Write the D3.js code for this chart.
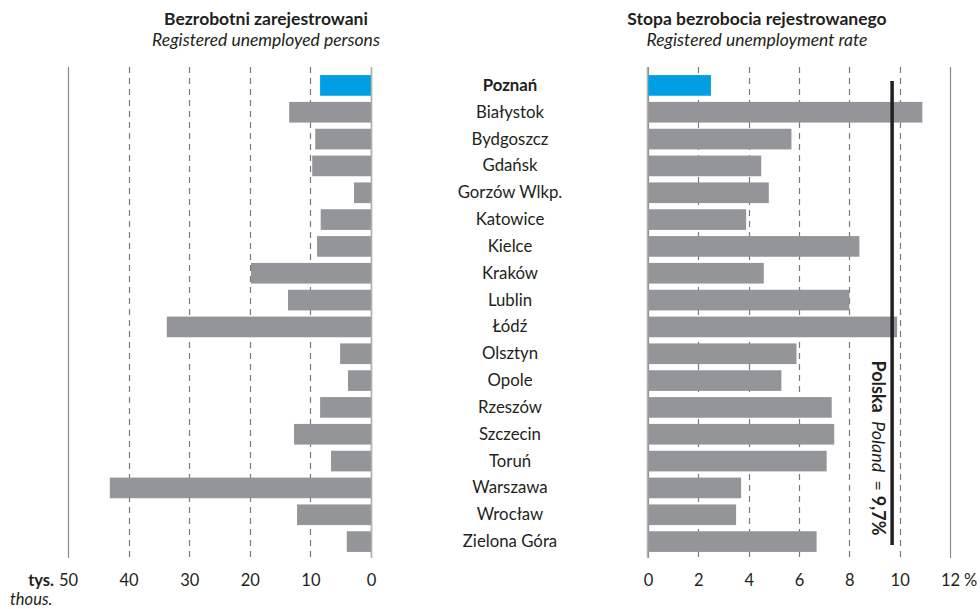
<!DOCTYPE html>
<html>
<head>
<meta charset="utf-8">
<script src="https://cdn.jsdelivr.net/npm/d3@7"></script>
<style>
  body { margin: 0; background: #fff; }
  svg { font-family: Lato, "Open Sans", sans-serif; fill: #231f20; }
</style>
</head>
<body>
<div id="chart"></div>
<script>
// data
const cities = ['Poznań', 'Białystok', 'Bydgoszcz', 'Gdańsk', 'Gorzów Wlkp.', 'Katowice', 'Kielce', 'Kraków',
  'Lublin', 'Łódź', 'Olsztyn', 'Opole', 'Rzeszów', 'Szczecin', 'Toruń', 'Warszawa', 'Wrocław', 'Zielona Góra'];
const unemployed = [8.4, 13.5, 9.2, 9.7, 2.8, 8.3, 8.9, 19.8, 13.7, 33.7, 5.1, 3.8, 8.4, 12.7, 6.6, 43.1, 12.2, 4.0];
const rate = [2.5, 10.9, 5.7, 4.5, 4.8, 3.9, 8.4, 4.6, 8.0, 9.9, 5.9, 5.3, 7.3, 7.4, 7.1, 3.7, 3.5, 6.7];
const polandRate = 9.7;
const leftTicks = [0, 10, 20, 30, 40, 50];
const rightTicks = [0, 2, 4, 6, 8, 10, 12];

const width = 980, height = 609;
const gridTop = 67, gridBottom = 558;
const grey = '#939598', blue = '#009fe3';

const svg = d3.select('#chart').append('svg')
  .attr('width', width)
  .attr('height', height);

// scales
const y = d3.scaleBand().domain(cities).range([72, 555]).paddingInner(0.23).paddingOuter(0.115);
const xL = d3.scaleLinear().domain([0, 50]).range([371, 68]);
const xR = d3.scaleLinear().domain([0, 12]).range([648, 950]);

// gridlines
function grid(scale, ticks, edge) {
  svg.append('g').selectAll('line')
    .data(ticks)
    .enter()
    .append('line')
    .attr('x1', d => Math.round(scale(d)) + 0.5)
    .attr('x2', d => Math.round(scale(d)) + 0.5)
    .attr('y1', gridTop)
    .attr('y2', gridBottom)
    .attr('stroke', d => (d === 0 || d === edge) ? '#8a8a8a' : '#7a7a7a')
    .attr('stroke-width', 1.2)
    .attr('stroke-dasharray', d => (d === 0 || d === edge) ? null : '6,5');
}
grid(xL, leftTicks, 50);
grid(xR, rightTicks, 12);

// bars - left
svg.append('g').selectAll('rect')
  .data(unemployed)
  .enter()
  .append('rect')
  .attr('x', d => xL(d))
  .attr('y', (d, i) => y(cities[i]))
  .attr('width', d => xL(0) - xL(d))
  .attr('height', y.bandwidth())
  .attr('fill', (d, i) => i === 0 ? blue : grey);

// bars - right
svg.append('g').selectAll('rect')
  .data(rate)
  .enter()
  .append('rect')
  .attr('x', xR(0))
  .attr('y', (d, i) => y(cities[i]))
  .attr('width', d => xR(d) - xR(0))
  .attr('height', y.bandwidth())
  .attr('fill', (d, i) => i === 0 ? blue : grey);

// baseline lines over bars
svg.append('line').attr('x1', xL(0) + 0.5).attr('x2', xL(0) + 0.5)
  .attr('y1', gridTop).attr('y2', gridBottom).attr('stroke', '#b0b0b0').attr('stroke-width', 1.5);
svg.append('line').attr('x1', xR(0) - 0.5).attr('x2', xR(0) - 0.5)
  .attr('y1', gridTop).attr('y2', gridBottom).attr('stroke', '#b0b0b0').attr('stroke-width', 1.5);

// Poland average
svg.append('line')
  .attr('x1', xR(polandRate)).attr('x2', xR(polandRate))
  .attr('y1', 81).attr('y2', 545)
  .attr('stroke', '#231f20').attr('stroke-width', 3.5);

const pl = svg.append('text')
  .attr('transform', `translate(872, 448) rotate(90)`)
  .attr('text-anchor', 'middle')
  .style('font-size', '18px');
pl.append('tspan').attr('font-weight', 'bold').text('Polska');
pl.append('tspan').attr('font-style', 'italic').text('\u2002Poland\u2002');
pl.append('tspan').text('= ');
pl.append('tspan').attr('font-weight', 'bold').text('9,7%');

// city labels
svg.append('g').selectAll('text')
  .data(cities)
  .enter()
  .append('text')
  .attr('x', 510)
  .attr('y', d => y(d) + y.bandwidth() / 2 + 5.5)
  .attr('text-anchor', 'middle')
  .attr('font-weight', (d, i) => i === 0 ? 'bold' : 'normal')
  .style('font-size', '16.8px')
  .text(d => d);

// axes
const axisL = d3.axisBottom(xL).tickValues(leftTicks).tickSize(0).tickPadding(0);
const axisR = d3.axisBottom(xR).tickValues(rightTicks).tickSize(0).tickPadding(0);
[axisL, axisR].forEach(ax => {
  const g = svg.append('g').attr('transform', 'translate(0, 574)').call(ax);
  g.select('.domain').remove();
  g.selectAll('text').style('font-size', '16.5px').style('font-family', 'Lato, sans-serif').attr('fill', '#231f20');
});

svg.append('text').attr('x', 964).attr('y', 585.5).style('font-size', '16.5px').text('%');
svg.append('text').attr('x', 54).attr('y', 585.5).attr('text-anchor', 'end')
  .attr('font-weight', 'bold').style('font-size', '16.5px').text('tys.');
svg.append('text').attr('x', 10).attr('y', 605).attr('font-style', 'italic')
  .style('font-size', '16.5px').text('thous.');

// titles
const titles = [
  [266, 'Bezrobotni zarejestrowani', 'Registered unemployed persons'],
  [757, 'Stopa bezrobocia rejestrowanego', 'Registered unemployment rate']
];
titles.forEach(([cx, main, sub]) => {
  svg.append('text').attr('x', cx).attr('y', 25).attr('text-anchor', 'middle')
    .attr('font-weight', 'bold').style('font-size', '17.5px').text(main);
  svg.append('text').attr('x', cx).attr('y', 46).attr('text-anchor', 'middle')
    .attr('font-style', 'italic').style('font-size', '17.5px').text(sub);
});
</script>
</body>
</html>
